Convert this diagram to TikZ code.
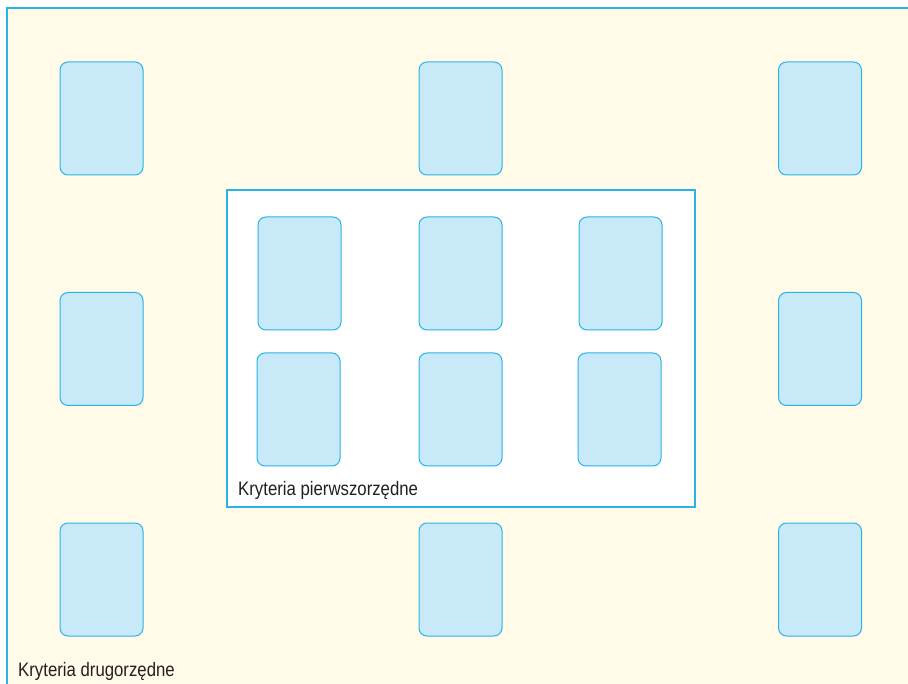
\documentclass[tikz,border=0pt]{standalone}
\usepackage{fontspec}
\setmainfont{Liberation Sans}[FakeStretch=0.86]
\usepackage{tikz}
\usetikzlibrary{positioning}
\definecolor{paperbg}{RGB}{255,251,232}
\definecolor{frameline}{RGB}{40,180,232}
\definecolor{cardfill}{RGB}{200,233,248}
\definecolor{textdark}{RGB}{35,31,32}

\begin{document}
\begin{tikzpicture}[
    x=1pt, y=-1pt,
    card/.style={rectangle, draw=frameline, fill=cardfill, line width=1pt, rounded corners=8pt, minimum width=83pt, minimum height=113pt, inner sep=0pt},
    zone/.style={color=frameline, line width=1.2pt},
    caption/.style={anchor=base west, inner sep=0pt, font=\fontsize{19.5}{22}\selectfont, text=textdark},
]
    \clip (0,0) rectangle (908,684);
    \fill[white] (0,0) rectangle (908,684);

    % secondary criteria area
    \filldraw[zone, fill=paperbg] (7,8) rectangle (920,700);

    \node[card] (sec11) at (101.5,118.5) {};
    \node[card] (sec12) at (460.5,118.5) {};
    \node[card] (sec13) at (820,118.5) {};
    \node[card] (sec21) at (101.5,349) {};
    \node[card] (sec23) at (820,349) {};
    \node[card] (sec31) at (101.5,579.5) {};
    \node[card] (sec32) at (460.5,579.5) {};
    \node[card] (sec33) at (820,579.5) {};

    \node[caption] (seclabel) at (18,676) {Kryteria drugorzędne};

    % primary criteria area
    \filldraw[zone, fill=white] (227,190) rectangle (695,507);

    \node[card] (pri11) at (299.5,273.5) {};
    \node[card] (pri12) at (460.5,273.5) {};
    \node[card] (pri13) at (620.5,273.5) {};
    \node[card] (pri21) at (298.5,409.5) {};
    \node[card] (pri22) at (460.5,409.5) {};
    \node[card] (pri23) at (619.5,409.5) {};

    \node[caption] (prilabel) at (238,495) {Kryteria pierwszorzędne};
\end{tikzpicture}
\end{document}
